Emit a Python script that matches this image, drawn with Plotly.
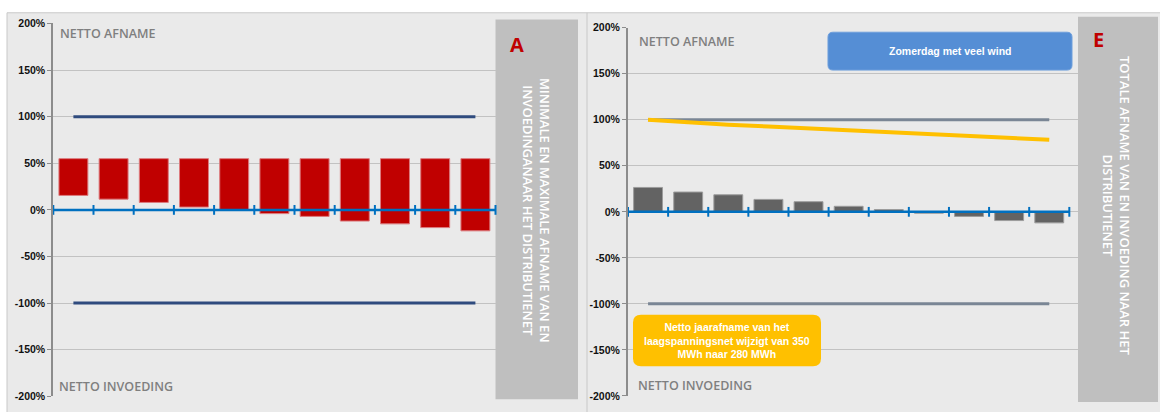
import plotly.graph_objects as go

# ---------------- data ----------------
categories = ["1", "2", "3", "4", "5", "6", "7", "8", "9", "10", "11"]

# Panel A: floating bars (min/max net exchange, % )
a_max = [55, 55, 55, 55, 55, 55, 55, 55, 55, 55, 55]
a_min = [15.5, 11.5, 8, 3, 0, -4, -7, -12, -15, -19, -22.5]
a_limit_up = [100] * 11
a_limit_down = [-100] * 11

# Panel E: total net exchange
e_total = [26.5, 21.5, 18.5, 13.5, 11, 6, 2.5, -1.5, -5, -9.5, -12]
e_yearly = [100, 96.8, 94.7, 92.8, 90.8, 88.8, 86.7, 84.5, 82.5, 80.3, 78.2]
e_limit_up = [100] * 11
e_limit_down = [-100] * 11

y_ticks = [200, 150, 100, 50, 0, -50, -100, -150, -200]
y_tick_labels = ["200%", "150%", "100%", "50%", "0%", "-50%", "-100%", "-150%", "-200%"]

# ---------------- layout helpers ----------------
W, H = 1160, 412


def fx(p):
    return p / W


def fy(p):
    return 1 - p / H


def rrect(x0, y0, x1, y1, r):
    pts = [
        ("M", [(x0 + r, y0)]),
        ("L", [(x1 - r, y0)]),
        ("Q", [(x1, y0), (x1, y0 + r)]),
        ("L", [(x1, y1 - r)]),
        ("Q", [(x1, y1), (x1 - r, y1)]),
        ("L", [(x0 + r, y1)]),
        ("Q", [(x0, y1), (x0, y1 - r)]),
        ("L", [(x0, y0 + r)]),
        ("Q", [(x0, y0), (x0 + r, y0)]),
    ]
    s = ""
    for cmd, ps in pts:
        s += cmd + " " + " ".join(f"{fx(a):.5f},{fy(b):.5f}" for a, b in ps) + " "
    return s + "Z"


n = len(categories)
xs = list(range(n))
bounds = [k - 0.5 for k in range(n + 1)]

fig = go.Figure()

# ----- Panel A -----
fig.add_trace(go.Bar(
    x=xs, y=[hi - lo for hi, lo in zip(a_max, a_min)], base=a_min,
    width=0.72, marker=dict(color="#c00000", line=dict(color="#dc7b7e", width=1)),
    xaxis="x", yaxis="y", showlegend=False))
for lim in (a_limit_up, a_limit_down):
    fig.add_trace(go.Scatter(
        x=xs, y=lim, mode="lines", line=dict(color="#2f4b7e", width=3),
        xaxis="x", yaxis="y", showlegend=False))

# ----- Panel E -----
fig.add_trace(go.Bar(
    x=xs, y=e_total, width=0.72,
    marker=dict(color="#636363", line=dict(color="#9c9c9c", width=1)),
    xaxis="x2", yaxis="y2", showlegend=False))
for lim in (e_limit_up, e_limit_down):
    fig.add_trace(go.Scatter(
        x=xs, y=lim, mode="lines", line=dict(color="#7a8695", width=3),
        xaxis="x2", yaxis="y2", showlegend=False))
fig.add_trace(go.Scatter(
    x=xs, y=e_yearly, mode="lines", line=dict(color="#ffc000", width=4),
    xaxis="x2", yaxis="y2", showlegend=False))

# category boundary ticks on the zero axis
for xa, ya in (("x", "y"), ("x2", "y2")):
    fig.add_trace(go.Scatter(
        x=bounds, y=[0] * len(bounds), mode="markers",
        marker=dict(symbol="line-ns", size=7, line=dict(color="#0070c0", width=2)),
        xaxis=xa, yaxis=ya, showlegend=False, cliponaxis=False))

# ---------------- axes ----------------
ycommon = dict(
    range=[-200, 200], tickmode="array", tickvals=y_ticks,
    ticktext=[f"<b>{t}</b>" for t in y_tick_labels],
    tickfont=dict(family="Liberation Sans", size=10.5, color="#111111"),
    showline=True, linecolor="#8c8c8c", linewidth=2,
    ticks="outside", ticklen=4, tickcolor="#8c8c8c",
    showgrid=True, gridcolor="#c2c2c2", gridwidth=1.2, zeroline=False,
)
xcommon = dict(showline=False, showgrid=False, zeroline=False,
               showticklabels=False, ticks="")

left_x = (53.3, 495.5)
right_x = (628, 1078)
cat_w_right = 40.12

fig.update_layout(
    width=W, height=H,
    margin=dict(l=0, r=0, t=0, b=0),
    paper_bgcolor="white", plot_bgcolor="rgba(0,0,0,0)",
    xaxis=dict(domain=[fx(left_x[0]), fx(left_x[1])], range=[-0.5, n - 0.5],
               anchor="y", **xcommon),
    yaxis=dict(domain=[fy(402), fy(18)], anchor="x", **ycommon),
    xaxis2=dict(domain=[fx(right_x[0]), fx(right_x[1])],
                range=[-0.5, -0.5 + (right_x[1] - right_x[0]) / cat_w_right],
                anchor="y2", **xcommon),
    yaxis2=dict(domain=[fy(401.6), fy(22.4)], anchor="x2", **ycommon),
)

shapes = [
    # panel background and frame
    dict(type="rect", xref="paper", yref="paper", x0=fx(7), x1=fx(1170), y0=fy(7), y1=fy(420),
         fillcolor="#eaeaea", line=dict(color="#c8c8c8", width=1), layer="below"),
    dict(type="line", xref="paper", yref="paper", x0=fx(587), x1=fx(587), y0=fy(7), y1=fy(420),
         line=dict(color="#c8c8c8", width=1), layer="below"),
    # side label boxes
    dict(type="rect", xref="paper", yref="paper", x0=fx(495.5), x1=fx(578), y0=fy(14), y1=fy(405),
         fillcolor="#bfbfbf", line=dict(width=0), layer="below"),
    dict(type="rect", xref="paper", yref="paper", x0=fx(1078), x1=fx(1158), y0=fy(11), y1=fy(408),
         fillcolor="#bfbfbf", line=dict(width=0), layer="below"),
    # blue zero axes
    dict(type="line", xref="x", yref="y", x0=-0.5, x1=n - 0.5, y0=0, y1=0,
         line=dict(color="#0070c0", width=2.5), layer="above"),
    dict(type="line", xref="x2", yref="y2", x0=-0.5, x1=n - 0.5, y0=0, y1=0,
         line=dict(color="#0070c0", width=2.5), layer="above"),
    # callout boxes
    dict(type="path", xref="paper", yref="paper", path=rrect(828, 27, 1072, 66, 5),
         fillcolor="#558ed5", line=dict(color="#6e9fdc", width=1), layer="above"),
    dict(type="path", xref="paper", yref="paper", path=rrect(633, 318, 821, 371, 8),
         fillcolor="#ffc000", line=dict(width=0), layer="above"),
]
fig.update_layout(shapes=shapes)

gray_lbl = dict(family="Open Sans", size=12.5, color="#7f7f7f", weight=600)
ann = []


def text(x, y, t, font, **kw):
    d = dict(xref="paper", yref="paper", x=fx(x), y=fy(y), text=t, showarrow=False,
             font=font)
    d.update(kw)
    ann.append(d)


text(58, 28.5, "NETTO AFNAME", gray_lbl, xanchor="left", yanchor="middle")
text(57, 392, "NETTO INVOEDING", gray_lbl, xanchor="left", yanchor="middle")
text(637, 36.5, "NETTO AFNAME", gray_lbl, xanchor="left", yanchor="middle")
text(636, 390.5, "NETTO INVOEDING", gray_lbl, xanchor="left", yanchor="middle")

text(517, 40, "A", dict(family="Open Sans", size=20, color="#c00000", weight="bold"),
     xanchor="center", yanchor="middle")
text(1098, 35, "E", dict(family="Open Sans", size=20, color="#c00000", weight="bold"),
     xanchor="center", yanchor="middle")

side_font = dict(family="Open Sans", size=13, color="white", weight=600)
text(536, 210, "MINIMALE EN MAXIMALE AFNAME VAN EN<br>INVOEDINGANAAR HET DISTRIBUTIENET",
     side_font, textangle=90, align="center", xanchor="center", yanchor="middle")
text(1117, 205, "TOTALE AFNAME VAN EN INVOEDING NAAR HET<br>DISTRIBUTIENET",
     side_font, textangle=90, align="center", xanchor="center", yanchor="middle")

box_font = dict(family="Liberation Sans", size=10.5, color="white", weight="bold")
text(950, 46.5, "Zomerdag met veel wind", box_font, xanchor="center", yanchor="middle")
text(727, 345, "Netto jaarafname van het<br>laagspanningsnet wijzigt van 350<br>MWh naar 280 MWh",
     box_font, xanchor="center", yanchor="middle", align="center")

fig.update_layout(annotations=ann)

fig.write_html("out.html")
